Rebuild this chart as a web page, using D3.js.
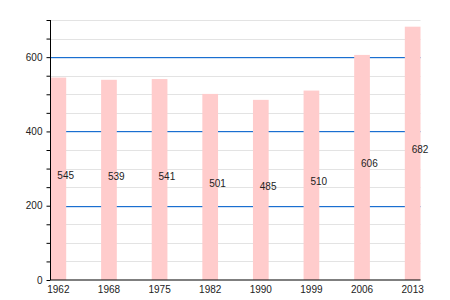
<!DOCTYPE html>
<meta charset="utf-8">
<style>
  body { margin: 0; background: #fff; }
  text { font-family: "Liberation Sans", Arial, sans-serif; font-size: 10px; fill: #222; }
</style>
<body>
<script src="https://d3js.org/d3.v7.min.js"></script>
<script>

var years = ["1962", "1968", "1975", "1982", "1990", "1999", "2006", "2013"];
var values = [545, 539, 541, 501, 485, 510, 606, 682];
var majorTicks = [0, 200, 400, 600];

var width = 450, height = 300;
var plotLeft = 50.5, plotRight = 420.5, plotTop = 20, plotBottom = 280;

var svg = d3.select("body").append("svg")
    .attr("width", width)
    .attr("height", height);

var x = d3.scaleBand()
    .domain(years)
    .range([plotLeft, plotRight])
    .paddingInner(0.69)
    .paddingOuter(0)
    .align(0);

var y = d3.scaleLinear()
    .domain([0, 700])
    .range([plotBottom, plotTop]);

var minor = d3.range(50, 701, 50).filter(function (d) { return d % 200 !== 0; });

// light grid
svg.selectAll("rect.minor")
  .data(minor)
  .enter().append("rect")
    .attr("class", "minor")
    .attr("x", plotLeft).attr("width", plotRight - plotLeft)
    .attr("y", function (d) { return Math.round(y(d)); })
    .attr("height", 1)
    .attr("fill", "#e3e3e3");

// blue grid at major ticks
svg.selectAll("rect.major")
  .data(majorTicks.filter(function (d) { return d > 0; }))
  .enter().append("rect")
    .attr("class", "major")
    .attr("x", plotLeft).attr("width", plotRight - plotLeft)
    .attr("y", function (d) { return Math.round(y(d)); })
    .attr("height", 1.2)
    .attr("fill", "#1a6fd0");

// bars
svg.selectAll("rect.bar")
  .data(values)
  .enter().append("rect")
    .attr("class", "bar")
    .attr("x", function (d, i) { return x(years[i]); })
    .attr("y", function (d) { return y(d); })
    .attr("width", x.bandwidth())
    .attr("height", function (d) { return plotBottom - y(d); })
    .attr("fill", "#ffcccc");

// value labels
svg.selectAll("text.val")
  .data(values)
  .enter().append("text")
    .attr("class", "val")
    .attr("x", function (d, i) { return x(years[i]) + x.bandwidth() / 2 - 1; })
    .attr("y", function (d) { return y(d / 2); })
    .text(function (d) { return d; });

// y axis
var yAxis = d3.axisLeft(y)
    .tickValues(d3.range(0, 701, 50))
    .tickSize(4)
    .tickFormat(function (d) { return majorTicks.indexOf(d) >= 0 ? d : ""; });

var gy = svg.append("g")
    .attr("transform", "translate(" + plotLeft + ",0)")
    .call(yAxis);
gy.select(".domain").attr("stroke", "#000").attr("d", "M0," + plotTop + "V" + plotBottom);
gy.selectAll(".tick line").attr("stroke", "#000");
gy.selectAll(".tick text").attr("x", -8).style("font-size", "10px").attr("fill", "#222");

// x axis
var gx = svg.append("g")
    .attr("transform", "translate(0," + plotBottom + ")")
    .call(d3.axisBottom(x).tickSize(0).tickPadding(6));
gx.select(".domain").attr("stroke", "#000").attr("stroke-width", 1.2).attr("d", "M" + plotLeft + ",0H" + plotRight);
gx.selectAll(".tick text").style("font-size", "10px").attr("fill", "#222");

</script>
</body>
